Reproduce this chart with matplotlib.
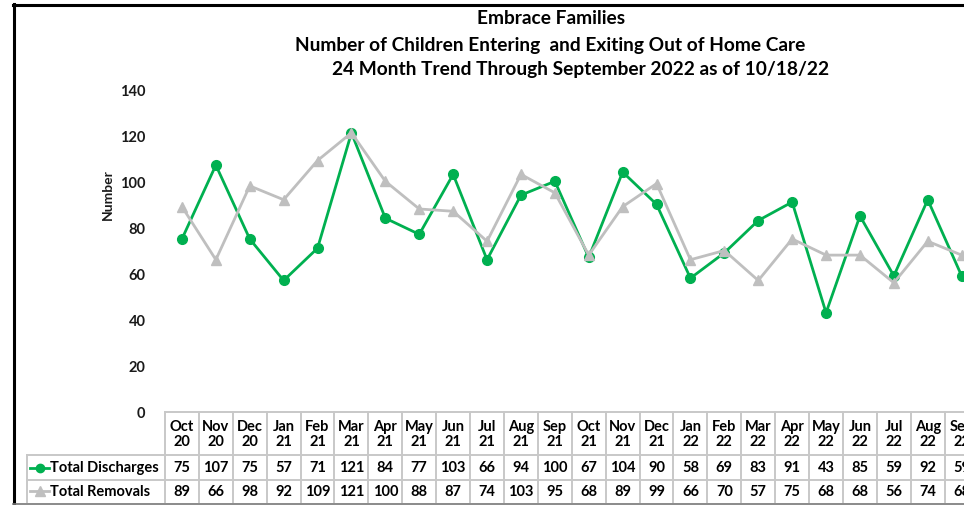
import matplotlib
matplotlib.use("Agg")
import matplotlib.pyplot as plt
from matplotlib.transforms import blended_transform_factory
from matplotlib.lines import Line2D

plt.rcParams['font.family'] = ['Lato', 'DejaVu Sans']

# ---- data ----
months = ["Oct", "Nov", "Dec", "Jan", "Feb", "Mar", "Apr", "May", "Jun", "Jul", "Aug", "Sep",
          "Oct", "Nov", "Dec", "Jan", "Feb", "Mar", "Apr", "May", "Jun", "Jul", "Aug", "Sep"]
years = ["20", "20", "20", "21", "21", "21", "21", "21", "21", "21", "21", "21",
         "21", "21", "21", "22", "22", "22", "22", "22", "22", "22", "22", "22"]
discharges = [75, 107, 75, 57, 71, 121, 84, 77, 103, 66, 94, 100,
              67, 104, 90, 58, 69, 83, 91, 43, 85, 59, 92, 59]
removals = [89, 66, 98, 92, 109, 121, 100, 88, 87, 74, 103, 95,
            68, 89, 99, 66, 70, 57, 75, 68, 68, 56, 74, 68]
series_names = ["Total Discharges", "Total Removals"]
title_lines = ["Embrace Families",
               "Number of Children Entering  and Exiting Out of Home Care",
               "24 Month Trend Through September 2022 as of 10/18/22"]
yticks = [0, 20, 40, 60, 80, 100, 120, 140]

GREEN = "#00b050"
GRAY = "#bfbfbf"
GRID = "#c8c8c8"

W, H = 964, 506
fig = plt.figure(figsize=(W / 100, H / 100), dpi=100)

def fx(px):
    return px / W

def fy(py):
    return 1 - py / H

# plot area: x from 165px, 24 categories of ~33.9px; y 0 at 413px, 140 at 90px
ax_left, ax_right = 165, 165 + 24 * 33.9
ax_top, ax_bot = 90, 413
ax = fig.add_axes([fx(ax_left), fy(ax_bot), (ax_right - ax_left) / W, (ax_bot - ax_top) / H])
x = list(range(len(months)))

ax.plot(x, discharges, color=GREEN, lw=2.0, marker="o", ms=7, zorder=3, clip_on=False)
ax.plot(x, removals, color=GRAY, lw=2.0, marker="^", ms=7.5, zorder=4, clip_on=False)

ax.set_xlim(-0.5, len(months) - 0.5)
ax.set_ylim(0, 140)
ax.set_yticks(yticks)
ax.set_yticklabels([str(v) for v in yticks], fontsize=10.5, fontweight="bold", color="#1a1a1a")
ax.tick_params(axis="y", length=0, pad=14)
ax.set_xticks([])
for s in ax.spines.values():
    s.set_visible(False)

fig.text(fx(108), fy(195), "Number", rotation=90, ha="center", va="center",
         fontsize=10, fontweight="bold", color="#1a1a1a")

# titles
fig.text(fx(551), fy(19), title_lines[0], ha="center", va="center", fontsize=13.8, fontweight="bold")
fig.text(fx(550), fy(46), title_lines[1], ha="center", va="center", fontsize=13.8, fontweight="bold")
fig.text(fx(581), fy(69), title_lines[2], ha="center", va="center", fontsize=13.8, fontweight="bold")

# ---- data table ----
trans = blended_transform_factory(ax.transData, fig.transFigure)
t_top, t_hdr, t_r1, t_r2 = 413, 456, 481, 503
lbl_left = 27

# horizontal lines
ax.plot([-0.5, len(months) - 0.5], [fy(t_top)] * 2, color=GRID, lw=1.4, transform=trans, clip_on=False)
for yy in (t_hdr, t_r1):
    fig.add_artist(Line2D([fx(lbl_left), 1.0], [fy(yy)] * 2, color=GRID, lw=1.4))
# vertical lines
for i in range(len(months) + 1):
    ax.plot([i - 0.5, i - 0.5], [fy(t_top), fy(t_r2)], color=GRID, lw=1.4,
            transform=trans, clip_on=False)
fig.add_artist(Line2D([fx(lbl_left)] * 2, [fy(t_hdr), fy(t_r2)], color=GRID, lw=1.4))

# header and values
for i in x:
    ax.text(i, fy((t_top + t_hdr) / 2), f"{months[i]}\n{years[i]}", transform=trans,
            ha="center", va="center", fontsize=10.5, fontweight="bold", linespacing=1.1, clip_on=False)
    ax.text(i, fy((t_hdr + t_r1) / 2), str(discharges[i]), transform=trans,
            ha="center", va="center", fontsize=10.5, fontweight="bold", clip_on=False)
    ax.text(i, fy((t_r1 + t_r2) / 2), str(removals[i]), transform=trans,
            ha="center", va="center", fontsize=10.5, fontweight="bold", clip_on=False)

# row labels with legend keys
for (name, col, mk, ms), yc in zip([(series_names[0], GREEN, "o", 6), (series_names[1], GRAY, "^", 6.5)],
                                   [(t_hdr + t_r1) / 2, (t_r1 + t_r2) / 2]):
    fig.add_artist(Line2D([fx(30), fx(49)], [fy(yc)] * 2, color=col, lw=2.0))
    fig.add_artist(Line2D([fx(39.5)], [fy(yc)], color=col, marker=mk, ms=ms, lw=0))
    fig.text(fx(50), fy(yc), name, ha="left", va="center", fontsize=10.5, fontweight="bold")

# outer border lines
fig.add_artist(Line2D([fx(13), 1.0], [fy(5.5)] * 2, color="black", lw=2.2))
fig.add_artist(Line2D([fx(13.5)] * 2, [fy(5), 0.0], color="black", lw=2.2))
fig.add_artist(Line2D([fx(13), 1.0], [fy(504.5)] * 2, color="#777777", lw=1.2))

fig.savefig("out.png", dpi=100)
